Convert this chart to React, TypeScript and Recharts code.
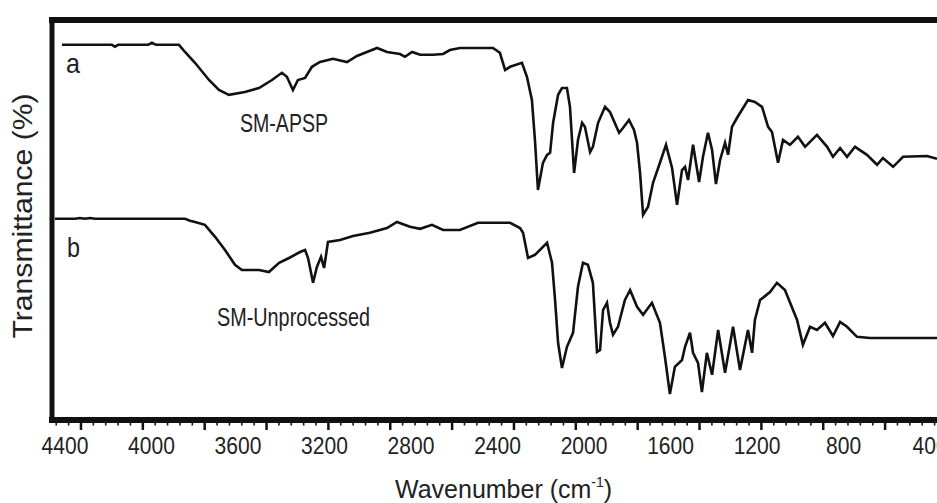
import React from 'react';
import { LineChart, Line, XAxis, YAxis } from 'recharts';

// FTIR spectra, wavenumber (cm-1) vs. relative transmittance (offset traces)
const apspWavenumber = [
  4414, 4238, 4183, 4169, 4155, 4016, 3998, 3979, 3873, 3845,
  3799, 3734, 3688, 3642, 3568, 3503, 3443, 3397, 3374, 3346,
  3323, 3290, 3258, 3221, 3161, 3096, 3050, 3004, 2957, 2911,
  2851, 2828, 2795, 2758, 2698, 2652, 2620, 2574, 2421, 2389,
  2365, 2342, 2287, 2264, 2241, 2227, 2213, 2190, 2171, 2157,
  2143, 2120, 2102, 2079, 2065, 2046, 2028, 2009, 1996, 1972,
  1959, 1935, 1903, 1880, 1838, 1820, 1792, 1769, 1755, 1741,
  1727, 1704, 1681, 1649, 1621, 1593, 1570, 1547, 1533, 1519,
  1496, 1468, 1450, 1427, 1408, 1390, 1371, 1348, 1334, 1316,
  1293, 1242, 1210, 1177, 1149, 1131, 1103, 1080, 1048, 1011,
  978, 923, 876, 849, 816, 784, 747, 692, 645, 618,
  571, 525, 414, 368,
];
const apspTransmittance = [
  93.8, 93.8, 93.8, 93.3, 93.8, 93.8, 94.3, 93.8, 93.8, 92.0,
  89.3, 85.0, 82.5, 81.3, 82.0, 83.0, 85.0, 86.8, 85.8, 82.5,
  85.0, 85.5, 88.3, 89.5, 90.3, 89.5, 91.0, 92.0, 93.0, 92.0,
  91.5, 90.8, 92.0, 91.3, 91.3, 91.5, 92.5, 93.0, 93.0, 91.8,
  87.5, 88.3, 89.3, 85.8, 80.0, 70.0, 57.5, 64.3, 66.3, 66.8,
  74.3, 81.3, 83.0, 83.0, 78.3, 61.8, 70.0, 74.3, 73.3, 67.0,
  68.3, 74.3, 78.3, 77.0, 71.8, 73.0, 75.0, 72.5, 69.3, 61.8,
  51.3, 53.3, 59.3, 64.3, 68.8, 63.0, 53.8, 62.5, 63.3, 60.0,
  68.8, 59.5, 65.8, 71.8, 67.5, 59.0, 65.0, 69.3, 66.3, 73.3,
  75.5, 80.0, 79.5, 78.3, 73.3, 72.0, 64.3, 70.0, 68.8, 70.8,
  68.3, 71.3, 68.3, 65.8, 68.0, 65.8, 68.3, 66.3, 63.8, 65.5,
  63.3, 65.8, 66.0, 65.3,
];

const rawWavenumber = [
  4446, 4354, 4331, 4308, 4284, 4261, 3845, 3822, 3799, 3753,
  3706, 3660, 3614, 3582, 3503, 3457, 3410, 3364, 3313, 3290,
  3276, 3253, 3235, 3216, 3202, 3184, 3128, 3068, 2990, 2911,
  2865, 2805, 2758, 2703, 2652, 2574, 2490, 2342, 2296, 2282,
  2259, 2227, 2171, 2148, 2134, 2120, 2102, 2079, 2051, 2028,
  2005, 1982, 1959, 1940, 1926, 1912, 1894, 1880, 1866, 1843,
  1811, 1787, 1755, 1727, 1686, 1649, 1626, 1603, 1580, 1547,
  1533, 1510, 1496, 1473, 1455, 1432, 1408, 1380, 1348, 1311,
  1279, 1242, 1223, 1210, 1186, 1140, 1108, 1071, 1015, 988,
  955, 923, 886, 849, 816, 784, 738, 678, 368,
];
const rawTransmittance = [
  50.3, 50.3, 50.5, 50.3, 50.5, 50.3, 50.3, 49.8, 49.5, 48.8,
  45.8, 42.5, 38.8, 37.5, 37.5, 37.0, 39.3, 40.5, 42.0, 42.5,
  40.5, 34.3, 38.3, 40.8, 38.0, 44.5, 45.0, 46.0, 46.8, 48.0,
  49.5, 48.3, 47.8, 48.8, 47.5, 47.5, 49.3, 49.3, 48.0, 46.8,
  40.5, 41.3, 44.3, 39.3, 30.0, 19.3, 13.0, 18.3, 21.8, 33.3,
  39.3, 38.8, 34.3, 17.0, 17.5, 27.5, 29.3, 24.3, 21.3, 23.3,
  30.0, 32.5, 28.3, 26.3, 29.3, 24.3, 15.8, 6.5, 13.3, 15.0,
  18.3, 21.8, 16.8, 14.3, 7.0, 16.8, 11.3, 22.5, 11.8, 23.3,
  12.5, 22.5, 16.8, 25.0, 30.0, 32.0, 34.3, 32.5, 25.0, 18.8,
  23.3, 22.5, 24.3, 21.0, 24.5, 23.3, 20.8, 20.5, 20.5,
];

const tickLabels = [4400, 4000, 3600, 3200, 2800, 2400, 2000, 1600, 1200, 800, 400];
// tick marks on the frame run on their own spacing, independent of the labels
const majorMarks = [4326, 4040, 3754, 3468, 3182, 2896, 2610, 2324, 2038, 1752, 1466, 1180, 894, 608];

const X_DOMAIN: [number, number] = [368, 4460];
const INK = '#111';
const FONT = '"Liberation Sans", Arial, Helvetica, sans-serif';

const minorMarks: number[] = [];
for (let k = -2; k < 72; k++) {
  if (k % 5 === 0) continue;
  const v = Math.round((majorMarks[0] - (286 / 5) * k) * 10) / 10;
  if (v > X_DOMAIN[0] && v < X_DOMAIN[1]) minorMarks.push(v);
}

const labelSet = new Set(tickLabels);
const majorSet = new Set(majorMarks);
const allTicks = [...tickLabels, ...majorMarks, ...minorMarks];

const apspData = apspWavenumber.map((w, i) => ({ w, t: apspTransmittance[i] }));
const rawData = rawWavenumber.map((w, i) => ({ w, t: rawTransmittance[i] }));

// one bottom axis carries both the numbers and the frame's tick marks
const BottomTick = (props: any) => {
  const { x, y, payload } = props;
  const v = payload.value;
  const axisY = y - 8; // recharts offsets tick content by tickSize + tickMargin
  if (labelSet.has(v)) {
    const s = String(v);
    return (
      <text
        x={x}
        y={axisY + 34}
        textAnchor="middle"
        fontFamily={FONT}
        fontSize={23}
        fill="#222"
        textLength={s.length * 11.7}
        lengthAdjust="spacingAndGlyphs"
      >
        {s}
      </text>
    );
  }
  const major = majorSet.has(v);
  return (
    <line
      x1={x}
      x2={x}
      y1={axisY}
      y2={axisY + (major ? 10 : 5.5)}
      stroke={INK}
      strokeWidth={major ? 2.5 : 1.6}
    />
  );
};

const frameLine = { stroke: INK, strokeWidth: 6, strokeLinecap: 'square' as const };

export default function App() {
  return (
    <div style={{ position: 'absolute', left: 0, top: 0, width: 937, height: 503, background: '#fff' }}>
      <LineChart width={937} height={503} margin={{ top: 19, right: 0, bottom: 82, left: 51 }}>
        <XAxis
          dataKey="w"
          type="number"
          domain={X_DOMAIN}
          reversed
          allowDataOverflow
          ticks={allTicks}
          interval={0}
          height={1}
          tickSize={6}
          tickMargin={2}
          tickLine={false}
          axisLine={frameLine}
          tick={<BottomTick />}
        />
        <XAxis
          xAxisId="top"
          orientation="top"
          type="number"
          domain={X_DOMAIN}
          reversed
          height={1}
          tick={false}
          tickLine={false}
          axisLine={frameLine}
        />
        <YAxis
          type="number"
          domain={[0, 100]}
          width={1}
          tick={false}
          tickLine={false}
          axisLine={{ stroke: INK, strokeWidth: 5, strokeLinecap: 'square' }}
        />
        <Line
          data={apspData}
          dataKey="t"
          type="linear"
          stroke={INK}
          strokeWidth={2.6}
          dot={false}
          isAnimationActive={false}
        />
        <Line
          data={rawData}
          dataKey="t"
          type="linear"
          stroke={INK}
          strokeWidth={2.6}
          dot={false}
          isAnimationActive={false}
        />

        <g fontFamily={FONT} fill="#222">
          <text x={66} y={73} fontSize={28} textLength={14} lengthAdjust="spacingAndGlyphs">a</text>
          <text x={67} y={257} fontSize={27} textLength={13} lengthAdjust="spacingAndGlyphs">b</text>
          <text x={240} y={132} fontSize={25} textLength={88} lengthAdjust="spacingAndGlyphs">SM-APSP</text>
          <text x={217} y={326} fontSize={25} textLength={153} lengthAdjust="spacingAndGlyphs">SM-Unprocessed</text>
          <text
            x={32}
            y={216}
            fontSize={27}
            textAnchor="middle"
            textLength={245}
            lengthAdjust="spacingAndGlyphs"
            transform="rotate(-90, 32, 216)"
          >
            Transmittance (%)
          </text>
          <text x={395} y={498} fontSize={25}>
            Wavenumber (cm
            <tspan fontSize={14} dy={-11}>-1</tspan>
            <tspan dy={11}>)</tspan>
          </text>
        </g>
      </LineChart>
    </div>
  );
}
